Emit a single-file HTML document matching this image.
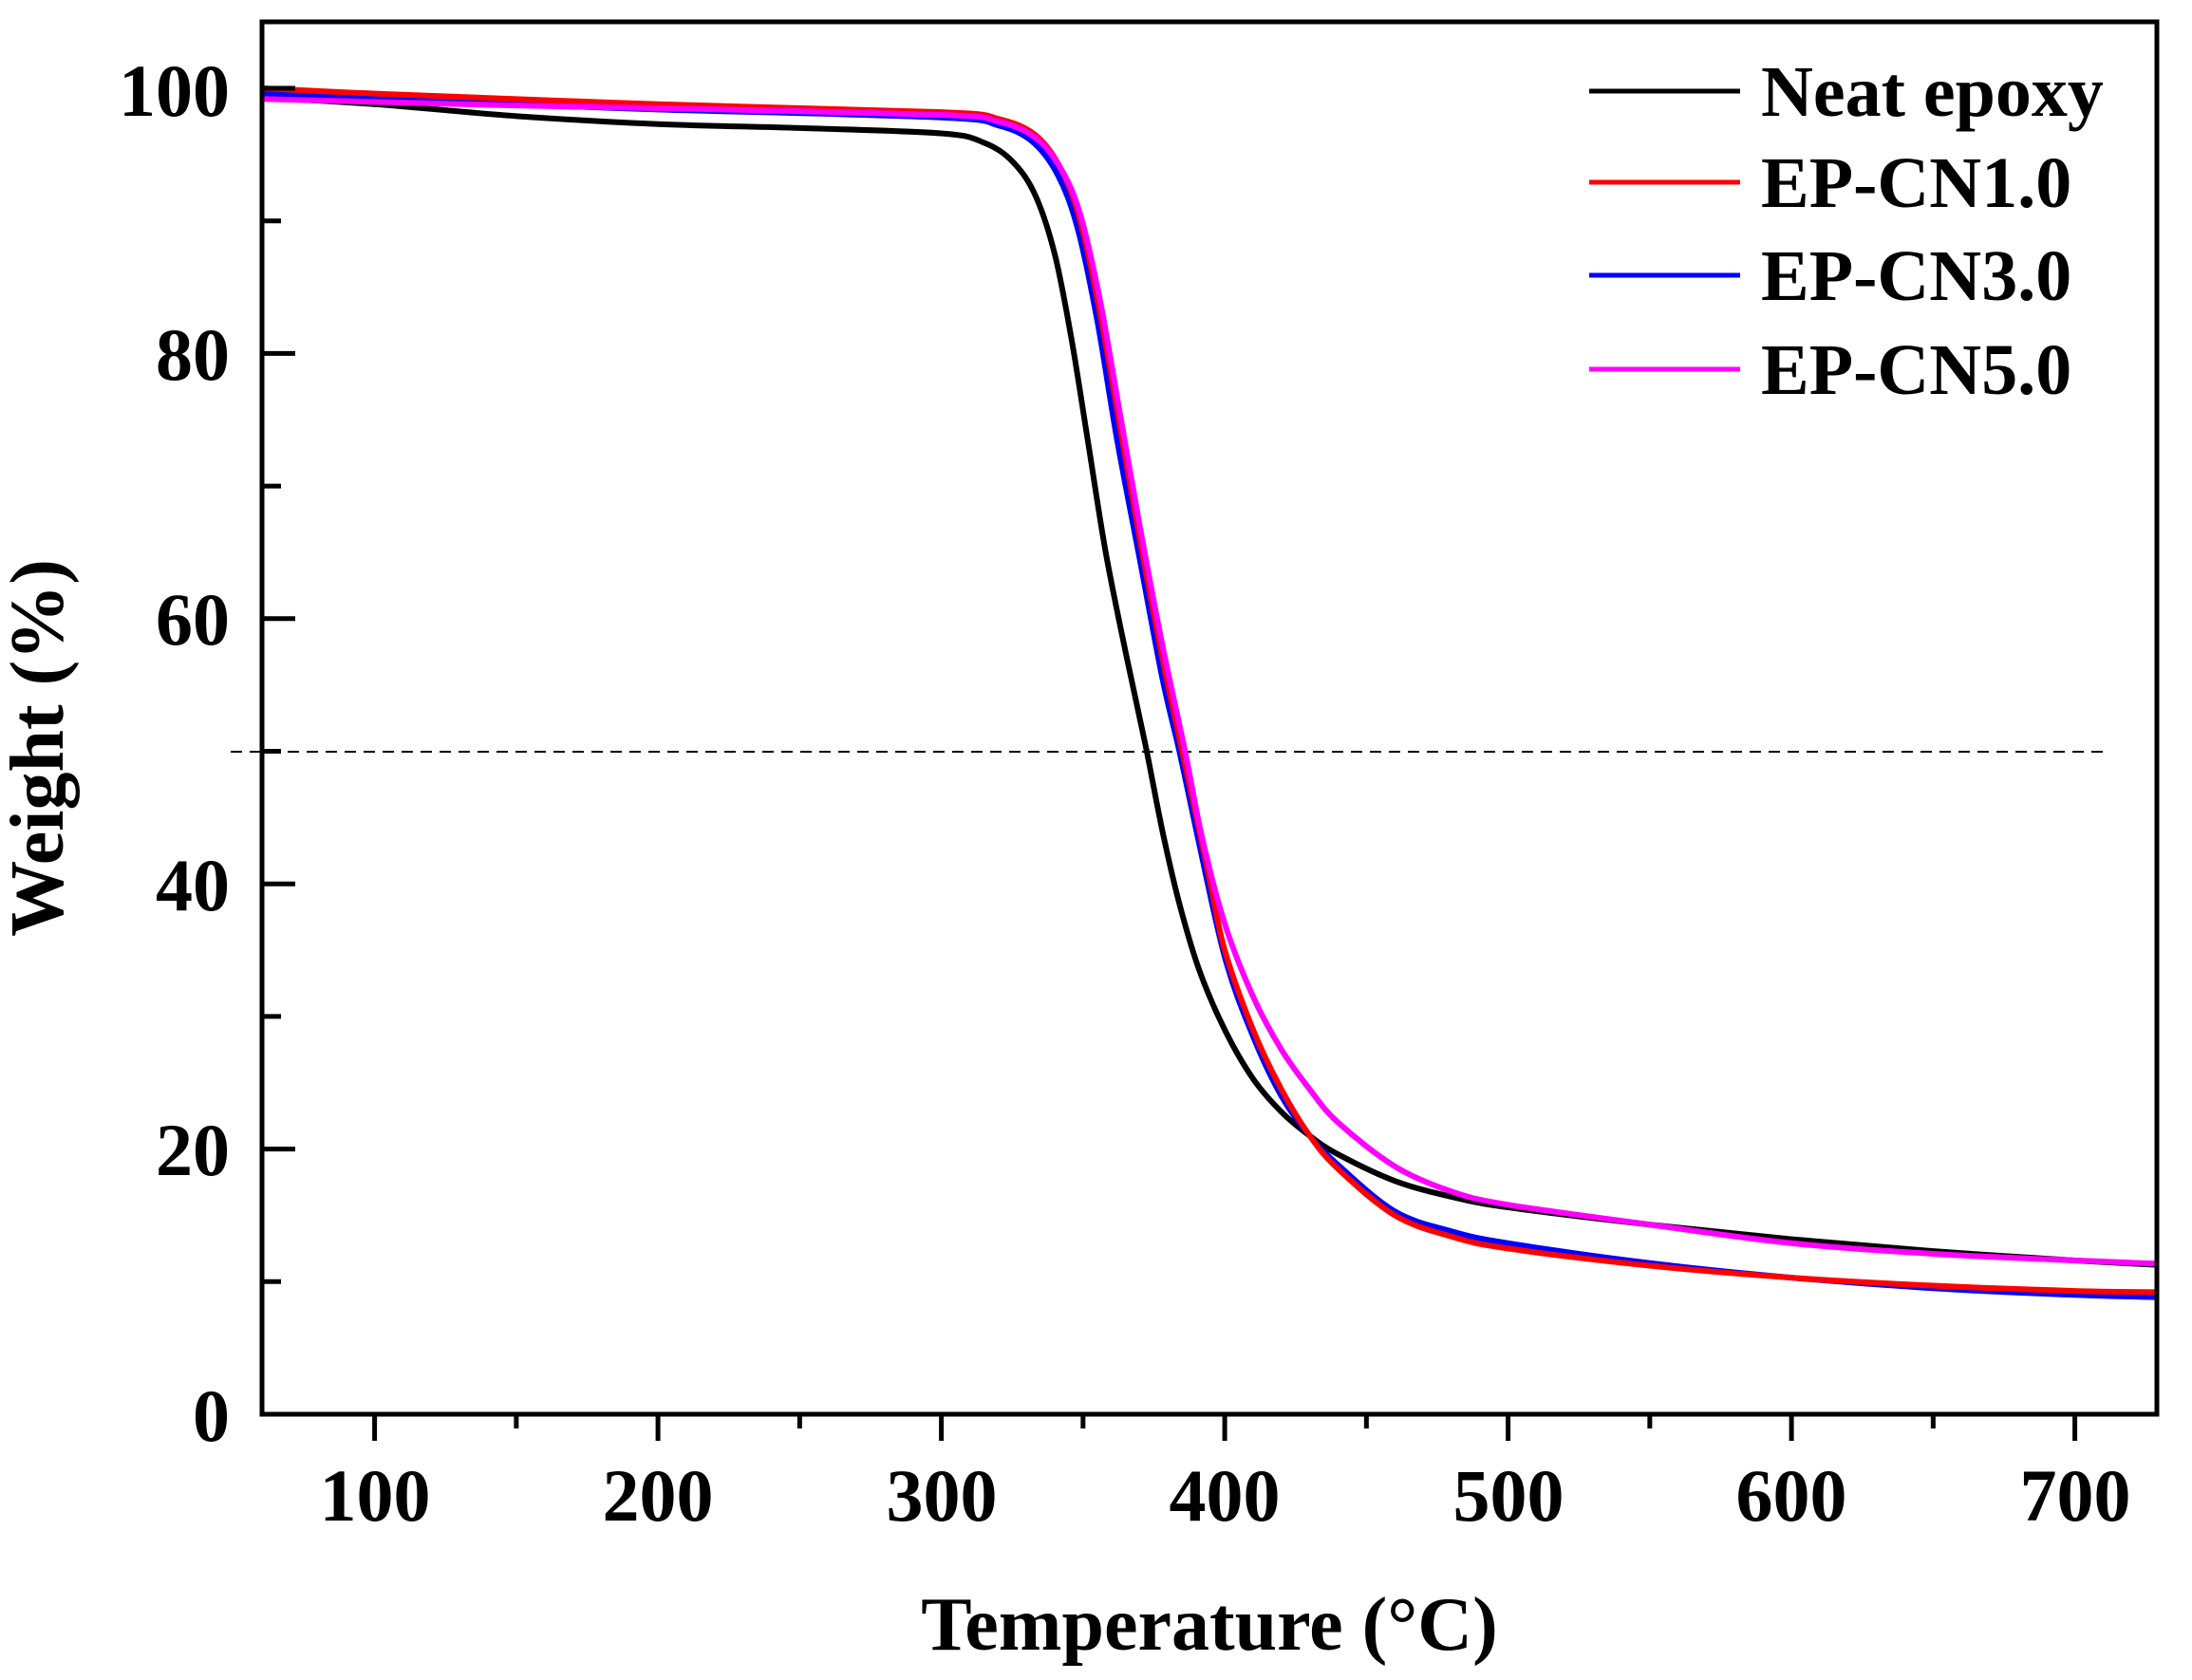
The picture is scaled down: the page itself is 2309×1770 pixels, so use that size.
<!DOCTYPE html>
<html><head><meta charset="utf-8"><style>
html,body{margin:0;padding:0;background:#fff;}
svg{display:block;}
text{font-family:"Liberation Serif",serif;font-weight:bold;fill:#000;}
</style></head><body>
<svg id="s" width="2309" height="1770" viewBox="0 0 2309 1770" xmlns="http://www.w3.org/2000/svg">
<defs><clipPath id="c"><rect x="276" y="23" width="1996" height="1467"/></clipPath></defs>
<rect width="2309" height="1770" fill="#fff"/>
<line x1="243" y1="792" x2="2216" y2="792" stroke="#000" stroke-width="2" stroke-dasharray="12,8"/>
<g id="curves" clip-path="url(#c)" fill="none" stroke-width="6" stroke-linejoin="round"></g>
<rect x="276" y="23" width="1996" height="1467" fill="none" stroke="#000" stroke-width="5"/>
<g id="ticks" stroke="#000" stroke-width="5"></g>
<g font-size="78" text-anchor="end">
<text x="242" y="122">100</text><text x="242" y="400">80</text><text x="242" y="679">60</text>
<text x="242" y="959">40</text><text x="242" y="1238">20</text><text x="242" y="1518">0</text>
</g>
<g font-size="78" text-anchor="middle">
<text x="395" y="1602">100</text><text x="693" y="1602">200</text><text x="992" y="1602">300</text>
<text x="1290" y="1602">400</text><text x="1589" y="1602">500</text><text x="1887" y="1602">600</text><text x="2186" y="1602">700</text>
</g>
<text x="1274" y="1738" font-size="80" text-anchor="middle">Temperature (°C)</text>
<text transform="translate(66,788) rotate(-90)" font-size="80" text-anchor="middle">Weight (%)</text>
<g stroke-width="5">
<line x1="1674" y1="96" x2="1833" y2="96" stroke="#000"/>
<line x1="1674" y1="192" x2="1833" y2="192" stroke="#ff0000"/>
<line x1="1674" y1="290" x2="1833" y2="290" stroke="#0000ff"/>
<line x1="1674" y1="389" x2="1833" y2="389" stroke="#ff00ff"/>
</g>
<g font-size="76">
<text x="1855" y="122">Neat epoxy</text>
<text x="1855" y="218">EP-CN1.0</text>
<text x="1855" y="316">EP-CN3.0</text>
<text x="1855" y="415">EP-CN5.0</text>
</g>
</svg>
<script>
var X=function(t){return 394.6+(t-100)*2.985;},Y=function(w){return 1490-w*13.97;};
var ns="http://www.w3.org/2000/svg";
var tk=document.getElementById("ticks");
function ln(a,b,c,d){var l=document.createElementNS(ns,"line");l.setAttribute("x1",a);l.setAttribute("y1",b);l.setAttribute("x2",c);l.setAttribute("y2",d);tk.appendChild(l);}
for(var w=10;w<=100;w+=10){ln(278,Y(w),278+(w%20==0?33:18),Y(w));}
for(var t=100;t<=700;t+=50){ln(X(t),1490,X(t),1490+(t%100==0?28:15));}
var S=[
["#000",[[60,99.3],[100,98.8],[150,97.9],[200,97.3],[250,97.0],[300,96.6],[315,95.9],[325,94.5],[333,92],[340,87.5],[346,81],[352,73],[358,65],[365,57.5],[372,50.5],[378,44],[384,38.5],[391,33.5],[400,29],[410,25.3],[420,22.8],[430,21.0],[440,19.6],[460,17.6],[480,16.4],[500,15.6],[550,14.3],[600,13.2],[650,12.3],[700,11.6],[735,11.2]]],
["#0000ff",[[60,99.6],[150,98.8],[200,98.4],[300,97.8],[320,97.2],[332,96],[341,93.5],[348,89.5],[355,82.5],[362,73.5],[370,64.5],[378,55.5],[384,50],[390,44],[400,34.5],[410,28.5],[420,24],[430,21],[440,18.8],[460,15.3],[480,13.8],[500,12.9],[550,11.4],[600,10.3],[650,9.5],[700,9.0],[735,8.8]]],
["#ff0000",[[60,100],[100,99.6],[200,98.8],[300,98.2],[320,97.7],[333,96.5],[342,94],[349,90],[356,83],[363,74.5],[370,66],[378,57],[385,50],[390,45],[395,40],[400,35],[410,29],[420,24.5],[430,21],[440,18.5],[460,15],[480,13.4],[500,12.5],[550,11.2],[600,10.3],[650,9.7],[700,9.3],[735,9.2]]],
["#ff00ff",[[60,99.2],[150,98.7],[200,98.5],[300,98.0],[320,97.5],[333,96.3],[342,94],[349,90.5],[356,84],[363,75.5],[370,67],[378,58],[386,50],[392,43.5],[400,37],[410,31.5],[420,27.5],[430,24.5],[440,22],[460,18.7],[480,16.8],[500,15.8],[550,14.3],[600,12.9],[650,12.1],[700,11.6],[735,11.3]]]
];
var g=document.getElementById("curves");
S.forEach(function(s){var p=s[1].map(function(a){return [X(a[0]),Y(a[1])];});
var d="M"+p[0][0]+","+p[0][1];
for(var i=0;i<p.length-1;i++){var p0=p[i-1]||p[i],p1=p[i],p2=p[i+1],p3=p[i+2]||p2;
d+="C"+(p1[0]+(p2[0]-p0[0])/6)+","+(p1[1]+(p2[1]-p0[1])/6)+" "+(p2[0]-(p3[0]-p1[0])/6)+","+(p2[1]-(p3[1]-p1[1])/6)+" "+p2[0]+","+p2[1];}
var e=document.createElementNS(ns,"path");e.setAttribute("d",d);e.setAttribute("stroke",s[0]);g.appendChild(e);});
</script>
</body></html>
